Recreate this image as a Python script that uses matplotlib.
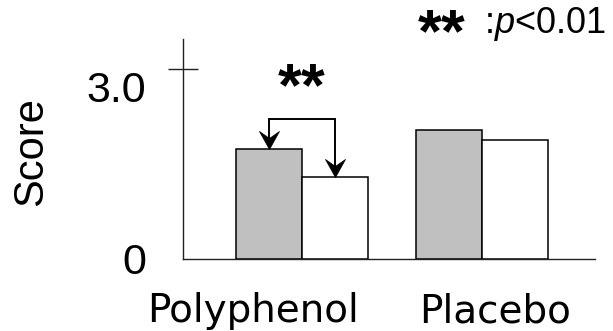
import numpy as np
import matplotlib
matplotlib.use('Agg')
import matplotlib.pyplot as plt
import matplotlib.transforms as mtransforms
from matplotlib.path import Path

# データ
groups = ['Polyphenol', 'Placebo']
before = [1.74, 2.04]   # gray bars
after = [1.30, 1.88]    # white bars
sig_label = '**'
y_ticks = [0, 3.0]
y_tick_labels = ['0', '3.0']

plt.rcParams['mathtext.fontset'] = 'custom'
plt.rcParams['mathtext.rm'] = 'Liberation Sans'
plt.rcParams['mathtext.it'] = 'Liberation Sans:italic'

W, H = 613, 331
fig = plt.figure(figsize=(W / 100, H / 100), dpi=100)
ax = fig.add_axes([183 / W, 1 - 259 / H, (595 - 183) / W, (259 - 39) / H])

x = np.arange(len(groups))
w = 0.365
ax.bar(x - w / 2, before, w, color='#c0c0c0', edgecolor='black', linewidth=1.1, zorder=3)
ax.bar(x + w / 2, after, w, color='white', edgecolor='black', linewidth=1.1, zorder=3)

ax.set_xlim(-0.657, 1.624)
ax.set_ylim(0, 3.47)

# 軸
for s in ['top', 'right']:
    ax.spines[s].set_visible(False)
for s in ['left', 'bottom']:
    ax.spines[s].set_color('#222222')
    ax.spines[s].set_linewidth(1.0)

ax.set_yticks(y_ticks, y_tick_labels, fontsize=31, family='Liberation Sans')
ax.tick_params(axis='y', direction='inout', length=21, width=1.0, color='#222222', pad=16)
ticks = ax.yaxis.get_major_ticks()
ticks[0].tick1line.set_visible(False)
# 3.0 のラベルは少し下にずれている
lab = ax.get_yticklabels()[1]
lab.set_transform(lab.get_transform() + mtransforms.ScaledTranslation(0, -18 / 100, fig.dpi_scale_trans))

ax.set_xticks(x, groups, fontsize=28, family='DejaVu Sans')
ax.tick_params(axis='x', length=0, pad=24)
offsets = [-49, 13]
for lab, off in zip(ax.get_xticklabels(), offsets):
    lab.set_transform(lab.get_transform() + mtransforms.ScaledTranslation(off / 100, 0, fig.dpi_scale_trans))

fig.text(31 / W, 1 - 152 / H, 'Score', rotation=90, ha='center', va='center',
         fontsize=30, family='Liberation Sans')

# 有意差の矢印（矢じりは凹型）
head = Path([(0, 0), (-1, 1.8), (0, 1.1), (1, 1.8), (0, 0)],
            [Path.MOVETO, Path.LINETO, Path.LINETO, Path.LINETO, Path.CLOSEPOLY])
bracket_y = 2.21
x0 = x[0] - w / 2
x1 = x[0] + w / 2
ax.plot([x0, x0, x1, x1], [before[0] + 0.15, bracket_y, bracket_y, after[0] + 0.15],
        color='black', lw=1.4, zorder=4, solid_joinstyle='miter')
ax.plot([x0, x1], [before[0], after[0]], ls='none', marker=head, markersize=26,
        color='black', markeredgewidth=0.5, zorder=5)
ax.text(x[0], 2.43, sig_label, ha='center', va='baseline', fontsize=44,
        fontweight='bold', family='Liberation Sans')

# 凡例
fig.text(418 / W, 1 - 51 / H, sig_label, ha='left', va='baseline', fontsize=44,
         fontweight='bold', family='Liberation Sans')
fig.text(484 / W, 1 - 24 / H, r':$\mathit{p}$<0.01', ha='left', va='center',
         fontsize=26, family='Liberation Sans')

fig.savefig('out.png', dpi=100)
